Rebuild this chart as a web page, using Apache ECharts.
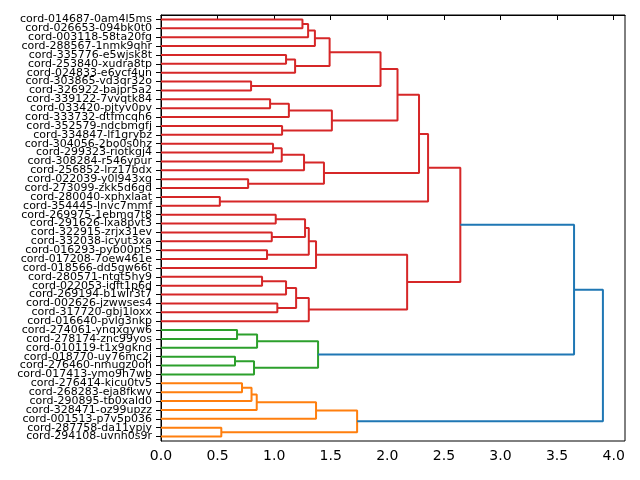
<!DOCTYPE html>
<html>
<head>
<meta charset="utf-8">
<script src="https://cdn.jsdelivr.net/npm/echarts@6/dist/echarts.min.js"></script>
<style>html,body{margin:0;padding:0;background:#fff}#c{width:640px;height:480px}</style>
</head>
<body>
<div id="c"></div>
<script>
// Leaf labels, top to bottom
const leafLabels = [
  "cord-014687-0am4l5ms","cord-026653-094bk0t0","cord-003118-58ta20fg","cord-288567-1nmk9qhr",
  "cord-335776-e5wjsk8t","cord-253840-xudra8tp","cord-024833-e6vcf4un","cord-303865-vd3qr32o",
  "cord-326922-bajpr5a2","cord-339122-7vvqtk84","cord-033420-pjtyv0pv","cord-333732-dtfmcqh6",
  "cord-352579-ndcbmgfj","cord-334847-lf1grybz","cord-304056-2bo0s0hz","cord-299323-riotkgj4",
  "cord-308284-r546ypur","cord-256852-lrz17bdx","cord-022039-y0l943xg","cord-273099-zkk5d6gd",
  "cord-280040-xphxlaat","cord-354445-lnvc7mmf","cord-269975-1ebmq7t8","cord-291626-lxa8pvt3",
  "cord-322915-zrjx31ev","cord-332038-icyut3xa","cord-016293-pyb00pt5","cord-017208-7oew461e",
  "cord-018566-dd5gw66t","cord-280571-ntgt5hy9","cord-022053-idft1p6d","cord-269194-b1wlr3t7",
  "cord-002626-jzwwses4","cord-317720-gbj1loxx","cord-016640-pvlg3nkp","cord-274061-ynqxgyw6",
  "cord-278174-znc99yos","cord-010119-t1x9gknd","cord-018770-uy76mc2j","cord-276460-nmugz0oh",
  "cord-017413-ymo9h7wb","cord-276414-kicu0tv5","cord-268283-eja8fkwv","cord-290895-tb0xald0",
  "cord-328471-oz99upzz","cord-001513-p7v5p036","cord-287758-da11ypiy","cord-294108-uvnh0s9r"
];
// Merges: [childA, childB, height]; ids 0..47 are leaves, 48+ are merged nodes in order
const merges = [
  [0,1,1.25],[48,2,1.30],[49,3,1.36],[4,5,1.105],[51,6,1.185],[50,52,1.49],[7,8,0.796],
  [53,54,1.94],[9,10,0.964],[56,11,1.13],[12,13,1.07],[57,58,1.51],[55,59,2.09],
  [14,15,0.99],[61,16,1.067],[62,17,1.264],[18,19,0.77],[63,64,1.44],[60,65,2.28],
  [20,21,0.52],[66,67,2.36],[22,23,1.014],[24,25,0.979],[69,70,1.273],[26,27,0.937],
  [71,72,1.306],[73,28,1.37],[29,30,0.893],[75,31,1.105],[32,33,1.028],[76,77,1.194],
  [78,34,1.306],[74,79,2.175],[68,80,2.645],[35,36,0.672],[82,37,0.849],[38,39,0.654],
  [84,40,0.822],[83,85,1.388],[81,86,3.65],[41,42,0.716],[88,43,0.80],[89,44,0.846],
  [90,45,1.37],[46,47,0.533],[91,92,1.733],[87,93,3.905]
];
const xTickInterval = 0.5;

const clusterPalette = ['#ff7f0e','#2ca02c','#d62728','#9467bd','#8c564b','#e377c2','#7f7f7f','#bcbd22','#17becf'];
const aboveColor = '#1f77b4';

const n = leafLabels.length;
const maxH = Math.max(...merges.map(m => m[2]));
const threshold = 0.7 * maxH;
const nodeY = [], nodeH = [], children = [], maxLeaf = [];
for (let i = 0; i < n; i++) { nodeY[i] = 10 * i + 5; nodeH[i] = 0; children[i] = null; maxLeaf[i] = i; }
merges.forEach((m, k) => {
  const id = n + k;
  nodeY[id] = (nodeY[m[0]] + nodeY[m[1]]) / 2;
  nodeH[id] = m[2];
  children[id] = [m[0], m[1]];
  maxLeaf[id] = Math.max(maxLeaf[m[0]], maxLeaf[m[1]]);
});
const root = n + merges.length - 1;
// find clusters (maximal subtrees below threshold)
const clusters = [];
(function walk(id) {
  if (children[id] === null) return;
  if (nodeH[id] < threshold) { clusters.push(id); return; }
  children[id].forEach(walk);
})(root);
clusters.sort((a, b) => maxLeaf[b] - maxLeaf[a]);
const nodeColor = {};
clusters.forEach((c, ci) => {
  const col = clusterPalette[ci % clusterPalette.length];
  (function paint(id) { if (children[id] === null) return; nodeColor[id] = col; children[id].forEach(paint); })(c);
});
const series = [];
for (let k = 0; k < merges.length; k++) {
  const id = n + k;
  const [a, b] = children[id];
  series.push({
    type: 'line', xAxisIndex: 0, yAxisIndex: 1, symbol: 'none', silent: true, animation: false,
    lineStyle: { color: nodeColor[id] || aboveColor, width: 2 },
    data: [[nodeH[a], nodeY[a]], [nodeH[id], nodeY[a]], [nodeH[id], nodeY[b]], [nodeH[b], nodeY[b]]]
  });
}

const chart = echarts.init(document.getElementById('c'), null, { renderer: 'canvas' });
chart.setOption({
  animation: false,
  backgroundColor: '#fff',
  textStyle: { fontFamily: 'DejaVu Sans' },
  grid: { left: 161, right: 15, top: 15, bottom: 39, show: true, borderColor: '#000', borderWidth: 1, backgroundColor: 'transparent' },
  xAxis: {
    type: 'value', min: 0, max: +(maxH * 1.05).toFixed(4), interval: xTickInterval,
    splitLine: { show: false },
    axisLine: { show: true, lineStyle: { color: '#000', width: 1 } },
    axisTick: { show: true, length: 5, lineStyle: { color: '#000', width: 1 } },
    axisLabel: { color: '#000', fontSize: 14, fontFamily: 'DejaVu Sans', margin: 8, showMaxLabel: false,
      formatter: v => v.toFixed(1) }
  },
  yAxis: [
    {
      type: 'category', data: leafLabels, inverse: true, boundaryGap: true,
      axisLine: { show: true, lineStyle: { color: '#000', width: 1 } },
      axisTick: { show: true, alignWithLabel: true, length: 5, lineStyle: { color: '#000', width: 1 } },
      axisLabel: { color: '#000', fontSize: 11, fontFamily: 'DejaVu Sans', margin: 9, interval: 0 },
      splitLine: { show: false }
    },
    {
      type: 'value', min: 0, max: 10 * n, inverse: true, show: false,
      splitLine: { show: false }
    }
  ],
  series: series
});
</script>
</body>
</html>
